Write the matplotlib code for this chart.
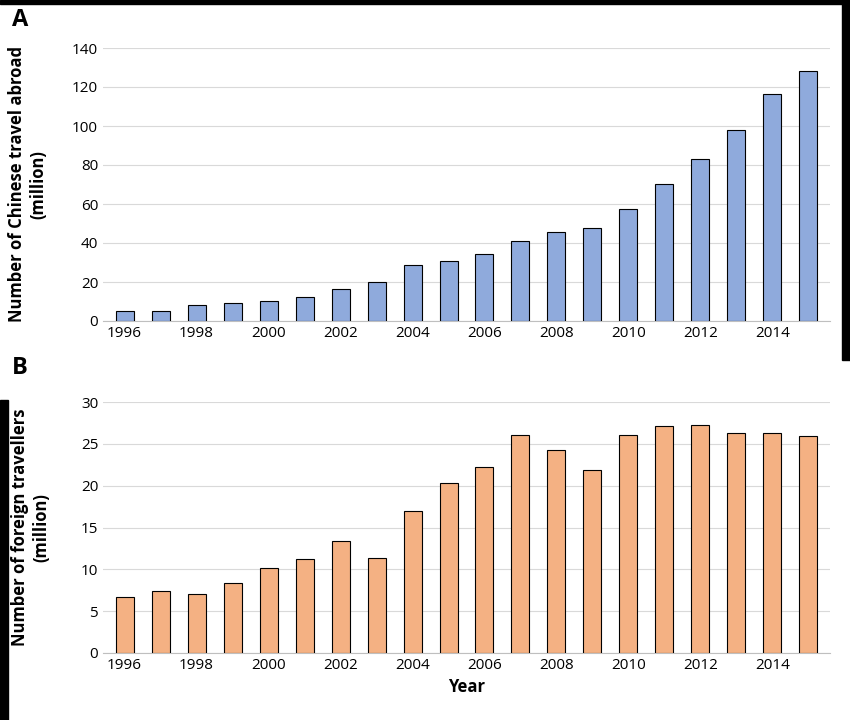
import matplotlib.pyplot as plt
import numpy as np
from matplotlib.patches import Rectangle

plt.rcParams['font.family'] = ['Open Sans', 'DejaVu Sans']
plt.rcParams['font.size'] = 11

years = list(range(1996, 2016))
chinese_abroad = [5.1, 5.3, 8.4, 9.2, 10.5, 12.1, 16.6, 20.2, 28.9, 31.0,
                  34.5, 40.9, 45.8, 47.7, 57.4, 70.3, 83.2, 98.2, 116.6, 128.0]
foreign_travellers = [6.7, 7.4, 7.1, 8.4, 10.2, 11.2, 13.4, 11.4, 17.0, 20.3,
                      22.2, 26.1, 24.3, 21.9, 26.1, 27.1, 27.2, 26.3, 26.3, 25.9]

fig = plt.figure(figsize=(8.5, 7.2), dpi=100)
W, H = 850, 720
axA = fig.add_axes([103 / W, 1 - 321 / H, 727 / W, 273 / H])
axB = fig.add_axes([103 / W, 1 - 653 / H, 727 / W, 251 / H])

def draw(ax, vals, color, yticks, ylabel, pad):
    ax.bar(years, vals, 0.5, color=color, edgecolor='black', linewidth=0.8, zorder=3)
    ax.set_xlim(1995.4, 2015.6)
    ax.set_ylim(yticks[0], yticks[-1])
    ax.set_yticks(yticks)
    ax.set_xticks(years[::2])
    ax.grid(axis='y', color='#d9d9d9', linewidth=0.8, zorder=0)
    for s in ['top', 'right', 'left']:
        ax.spines[s].set_visible(False)
    ax.spines['bottom'].set_color('#bfbfbf')
    ax.tick_params(length=0, labelsize=11)
    ax.set_ylabel(ylabel, fontweight='bold', fontsize=12, labelpad=pad)

draw(axA, chinese_abroad, '#8FAADC', np.arange(0, 141, 20),
     'Number of Chinese travel abroad\n(million)', 18)
draw(axB, foreign_travellers, '#F4B183', np.arange(0, 31, 5),
     'Number of foreign travellers\n(million)', 22)
axB.set_xlabel('Year', fontweight='bold', fontsize=12)

fig.text(12 / W, 1 - 20 / H, 'A', fontsize=17, fontweight='bold', va='center')
fig.text(12 / W, 1 - 368 / H, 'B', fontsize=17, fontweight='bold', va='center')

# dark border artefacts of the original image
fig.patches.append(Rectangle((0, 1 - 4 / H), 1, 4 / H, transform=fig.transFigure, color='black'))
fig.patches.append(Rectangle((1 - 8 / W, 1 - 360 / H), 8 / W, 360 / H, transform=fig.transFigure, color='black'))
fig.patches.append(Rectangle((0, 0), 8 / W, 320 / H, transform=fig.transFigure, color='black'))

fig.savefig('out.png', dpi=100)
